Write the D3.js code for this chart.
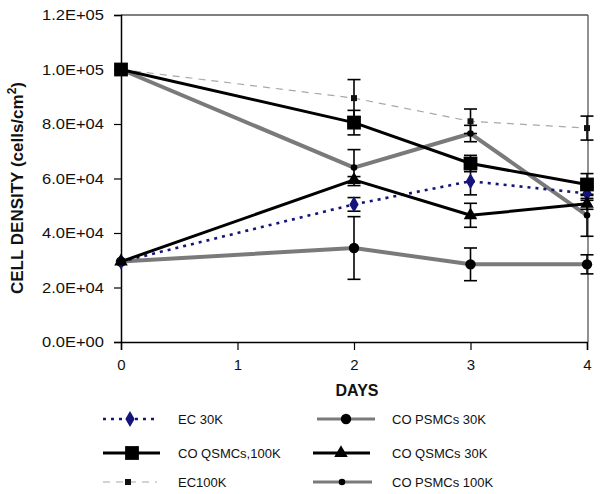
<!DOCTYPE html>
<html>
<head>
<meta charset="utf-8">
<script src="https://cdn.jsdelivr.net/npm/d3@7"></script>
<style>
  body { margin: 0; background: #fff; }
  svg { display: block; font-family: "Liberation Sans", Arial, sans-serif; }
</style>
</head>
<body>
<svg id="chart" width="600" height="494"></svg>
<script>
// ---- data ----
const days = [0, 2, 3, 4];
const xTicks = [0, 1, 2, 3, 4];
const yTicks = [0, 20000, 40000, 60000, 80000, 100000, 120000];
const yTickLabels = ["0.0E+00", "2.0E+04", "4.0E+04", "6.0E+04", "8.0E+04", "1.0E+05", "1.2E+05"];

const seriesNames = ["EC 30K", "CO QSMCs,100K", "EC100K", "CO PSMCs 30K", "CO QSMCs 30K", "CO PSMCs 100K"];
const ec30 = [29500, 50500, 59000, 54500];
const qsmc100 = [100000, 80500, 65500, 57800];
const ec100 = [100000, 89500, 81000, 78500];
const psmc30 = [29500, 34500, 28500, 28500];
const qsmc30 = [29500, 59500, 46500, 50700];
const psmc100 = [100000, 64000, 76500, 46500];

const ec30Err = [0, 2500, 5000, 2500];
const qsmc100Err = [0, 4500, 3000, 4000];
const ec100Err = [0, 6800, 4500, 4400];
const psmc30Err = [0, 11500, 6000, 3500];
const qsmc30Err = [0, 1200, 4400, 2000];
const psmc100Err = [0, 6600, 3000, 7700];

// ---- styles ----
const styles = {
  "EC 30K": {values: ec30, err: ec30Err, color: "#14147a", width: 2.6, dash: "3,5", marker: "diamond", msize: 75, mcolor: "#14147a"},
  "CO QSMCs,100K": {values: qsmc100, err: qsmc100Err, color: "#000", width: 3, dash: null, marker: "square", msize: 190, mcolor: "#000"},
  "EC100K": {values: ec100, err: ec100Err, color: "#a8a8a8", width: 1.2, dash: "7,6", marker: "square", msize: 36, mcolor: "#111"},
  "CO PSMCs 30K": {values: psmc30, err: psmc30Err, color: "#7a7a7a", width: 4, dash: null, marker: "circle", msize: 85, mcolor: "#000"},
  "CO QSMCs 30K": {values: qsmc30, err: qsmc30Err, color: "#000", width: 3, dash: null, marker: "triangle", msize: 80, mcolor: "#000"},
  "CO PSMCs 100K": {values: psmc100, err: psmc100Err, color: "#7a7a7a", width: 4, dash: null, marker: "circle", msize: 34, mcolor: "#000"}
};
const drawOrder = ["EC100K", "CO PSMCs 30K", "CO PSMCs 100K", "EC 30K", "CO QSMCs 30K", "CO QSMCs,100K"];

const symMap = {diamond: d3.symbolDiamond, square: d3.symbolSquare, circle: d3.symbolCircle, triangle: d3.symbolTriangle};

const svg = d3.select("#chart");
const L = 121, R = 588, T = 15, B = 342;
const x = d3.scaleLinear().domain([0, 4]).range([L, R - 1]);
const y = d3.scaleLinear().domain([0, 120000]).range([B, T]);

// frame (top/right)
svg.append("line").attr("x1", L).attr("x2", R).attr("y1", T).attr("y2", T).attr("stroke", "#555").attr("stroke-width", 1.3);
svg.append("line").attr("x1", R).attr("x2", R).attr("y1", T).attr("y2", B).attr("stroke", "#555").attr("stroke-width", 1.3);

// y axis
const yAxis = d3.axisLeft(y).tickValues(yTicks).tickSize(7).tickPadding(10)
  .tickFormat((d, i) => yTickLabels[i]);
const gy = svg.append("g").attr("transform", `translate(${L},0)`).call(yAxis);
gy.select(".domain").attr("stroke", "#000").attr("stroke-width", 1.5);
gy.selectAll(".tick line").attr("stroke", "#000").attr("stroke-width", 1.2);
gy.selectAll(".tick text").attr("font-size", 15).attr("fill", "#111")
  .attr("font-family", "Liberation Sans, Arial, sans-serif")
  .attr("textLength", 62).attr("lengthAdjust", "spacingAndGlyphs");

// x axis
const xAxis = d3.axisBottom(x).tickValues(xTicks).tickSize(8).tickPadding(9).tickFormat(d3.format("d"));
const gx = svg.append("g").attr("transform", `translate(0,${B})`).call(xAxis);
gx.select(".domain").attr("stroke", "#000").attr("stroke-width", 1.5);
gx.selectAll(".tick line").attr("stroke", "#000").attr("stroke-width", 1.2);
gx.selectAll(".tick text").attr("font-size", 15).attr("fill", "#111")
  .attr("font-family", "Liberation Sans, Arial, sans-serif");

// axis titles
svg.append("text").attr("x", 357).attr("y", 396).attr("text-anchor", "middle")
  .attr("font-size", 16).attr("font-weight", "bold").attr("fill", "#111").text("DAYS");
const yt = svg.append("text").attr("transform", "translate(23,188) rotate(-90)")
  .attr("text-anchor", "middle").attr("font-size", 17).attr("font-weight", "bold").attr("fill", "#111");
yt.append("tspan").text("CELL DENSITY (cells/cm");
yt.append("tspan").attr("font-size", 12).attr("dy", -7).text("2");
yt.append("tspan").attr("dy", 7).text(")");

// lines
const line = d3.line().x((d, i) => x(days[i])).y(d => y(d));
drawOrder.forEach(name => {
  const s = styles[name];
  svg.append("path").datum(s.values).attr("d", line)
    .attr("fill", "none").attr("stroke", s.color).attr("stroke-width", s.width)
    .attr("stroke-dasharray", s.dash).attr("stroke-linejoin", "round");
});

// error bars
drawOrder.forEach(name => {
  const s = styles[name];
  s.values.forEach((v, i) => {
    const e = s.err[i];
    if (!e) return;
    const cx = x(days[i]);
    const g = svg.append("g").attr("stroke", "#000").attr("stroke-width", 1.6);
    g.append("line").attr("x1", cx).attr("x2", cx).attr("y1", y(v - e)).attr("y2", y(v + e));
    g.append("line").attr("x1", cx - 6.5).attr("x2", cx + 6.5).attr("y1", y(v - e)).attr("y2", y(v - e));
    g.append("line").attr("x1", cx - 6.5).attr("x2", cx + 6.5).attr("y1", y(v + e)).attr("y2", y(v + e));
  });
});

// markers
drawOrder.forEach(name => {
  const s = styles[name];
  const sym = d3.symbol().type(symMap[s.marker]).size(s.msize);
  svg.append("g").selectAll("path").data(s.values).join("path")
    .attr("d", sym)
    .attr("transform", (d, i) => `translate(${x(days[i])},${y(d)})`)
    .attr("fill", s.mcolor);
});

// legend
const legendItems = [
  {name: "EC 30K", x1: 103, x2: 157, mx: 130, ly: 419, tx: 178},
  {name: "CO PSMCs 30K", x1: 317, x2: 375, mx: 346, ly: 419, tx: 392},
  {name: "CO QSMCs,100K", x1: 103, x2: 160, mx: 132, ly: 453, tx: 178},
  {name: "CO QSMCs 30K", x1: 313, x2: 370, mx: 341, ly: 453, tx: 392},
  {name: "EC100K", x1: 103, x2: 157, mx: 128, ly: 482, tx: 178},
  {name: "CO PSMCs 100K", x1: 313, x2: 372, mx: 342, ly: 482, tx: 392}
];
legendItems.forEach(it => {
  const s = styles[it.name];
  svg.append("line").attr("x1", it.x1).attr("x2", it.x2).attr("y1", it.ly).attr("y2", it.ly)
    .attr("stroke", s.color).attr("stroke-width", s.width - (s.width > 3.5 ? 0.8 : 0)).attr("stroke-dasharray", s.dash);
  svg.append("path").attr("d", d3.symbol().type(symMap[s.marker]).size(s.msize)())
    .attr("transform", `translate(${it.mx},${it.ly})`).attr("fill", s.mcolor);
  svg.append("text").attr("x", it.tx).attr("y", it.ly + 5).attr("font-size", 13)
    .attr("fill", "#111").text(it.name);
});
</script>
</body>
</html>
